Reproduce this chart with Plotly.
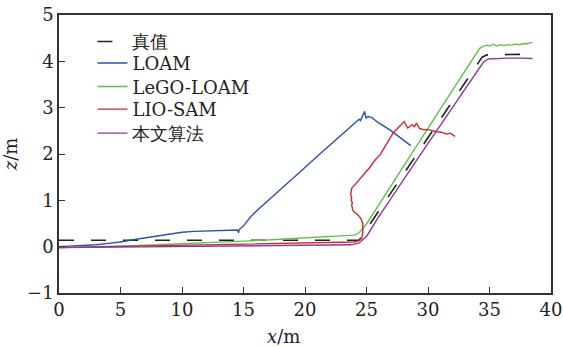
import plotly.graph_objects as go

# Ground truth trajectory (x, z)
truth_x = [0, 24.4, 34.4, 34.8, 37.6]
truth_z = [0.14, 0.14, 4.09, 4.14, 4.15]

# LOAM
loam_x = [0, 1, 2, 3, 4, 5, 6, 7, 8, 9, 10, 11, 12, 13, 14, 14.5, 14.6, 14.65,
          15.0, 15.6, 16.3, 17.0, 18.0, 19.0, 20.0, 21.0, 22.0, 23.0, 23.8, 24.4,
          24.5, 24.7, 24.85, 24.95, 25.1, 25.4, 26.0, 26.9, 27.7, 28.6]
loam_z = [0.0, 0.01, 0.02, 0.04, 0.07, 0.10, 0.15, 0.19, 0.23, 0.27, 0.31, 0.33,
          0.34, 0.35, 0.35, 0.36, 0.30, 0.37, 0.45, 0.65, 0.83, 1.00, 1.24, 1.48,
          1.71, 1.95, 2.18, 2.42, 2.61, 2.75, 2.72, 2.86, 2.92, 2.77, 2.81, 2.79,
          2.67, 2.52, 2.36, 2.18]

# LeGO-LOAM
lego_x = [0, 2, 4, 6, 8, 10, 12, 14, 16, 18, 20, 22, 23.5, 24.0, 24.4, 24.8,
          25.0, 26, 27, 28, 29, 30, 31, 32, 33, 34.0, 34.2, 34.5, 34.8, 35.0,
          35.3, 35.6, 35.9, 36.2, 36.5, 36.8, 37.1, 37.4, 37.7, 38.0, 38.5]
lego_z = [-0.02, -0.01, 0.0, 0.02, 0.04, 0.06, 0.08, 0.10, 0.13, 0.16, 0.19,
          0.21, 0.23, 0.25, 0.30, 0.42, 0.49, 0.90, 1.32, 1.73, 2.14, 2.56, 2.97,
          3.38, 3.79, 4.20, 4.28, 4.33, 4.35, 4.33, 4.37, 4.33, 4.36, 4.34, 4.36,
          4.35, 4.37, 4.36, 4.38, 4.38, 4.41]

# LIO-SAM
lio_x = [0, 4, 8, 12, 16, 20, 23, 24.0, 24.4, 24.6, 24.7, 24.7, 24.6, 24.4,
         24.2, 23.95, 23.85, 23.8, 23.85, 23.75, 23.8, 23.72, 23.75, 23.8, 24.1,
         24.4, 24.8, 25.3, 25.7, 26.1, 26.6, 27.15, 27.6, 28.07, 28.35, 28.7,
         28.9, 29.06, 29.3, 29.6, 30.1, 30.7, 31.1, 31.5, 31.8, 32.2]
lio_z = [-0.02, 0.0, 0.02, 0.04, 0.06, 0.08, 0.09, 0.10, 0.13, 0.18, 0.30, 0.50,
         0.58, 0.66, 0.71, 0.76, 0.82, 0.90, 0.95, 1.0, 1.05, 1.12, 1.18, 1.26,
         1.35, 1.44, 1.57, 1.72, 1.87, 1.98, 2.20, 2.45, 2.57, 2.70, 2.56, 2.63,
         2.59, 2.67, 2.55, 2.53, 2.52, 2.48, 2.47, 2.43, 2.45, 2.38]

# Proposed method
ours_x = [0, 4, 8, 12, 16, 20, 23.8, 24.4, 25.0, 26, 27, 28, 29, 30, 31, 32,
          33, 34, 34.5, 34.9, 35.5, 36.5, 37.5, 38.0, 38.5]
ours_z = [-0.02, -0.01, 0.0, 0.01, 0.02, 0.03, 0.04, 0.08, 0.22, 0.65, 1.05,
          1.44, 1.83, 2.23, 2.62, 3.01, 3.41, 3.80, 3.98, 4.05, 4.06, 4.07,
          4.07, 4.06, 4.06]

SERIF = "DejaVu Serif"
TEXT = "#222222"

series = [
    ("真值", truth_x, truth_z, dict(color="#222222", width=1.6, dash="15px,17px")),
    ("LOAM", loam_x, loam_z, dict(color="#2a52b0", width=1.4)),
    ("LeGO-LOAM", lego_x, lego_z, dict(color="#5cc24a", width=1.4)),
    ("LIO-SAM", lio_x, lio_z, dict(color="#d0262e", width=1.4)),
    ("本文算法", ours_x, ours_z, dict(color="#8b3a98", width=1.4)),
]

# plot-area geometry (px) used to place the per-series legend rows
PLOT_TOP, PLOT_BOTTOM = 15, 292.7
legend_rows_px = [41.7, 63.3, 86.7, 109.3, 133.3]

fig = go.Figure()
legend_layout = {}
for i, (name, xs, zs, line) in enumerate(series):
    key = "legend" if i == 0 else f"legend{i + 1}"
    fig.add_trace(go.Scatter(x=xs, y=zs, mode="lines", name=name, line=line,
                             legend=key))
    legend_layout[key] = dict(
        x=0.068, y=(PLOT_BOTTOM - legend_rows_px[i]) / (PLOT_BOTTOM - PLOT_TOP),
        xanchor="left", yanchor="middle", bgcolor="rgba(0,0,0,0)",
        borderwidth=0, font=dict(family=SERIF, size=18, color=TEXT))

axis_common = dict(
    showgrid=False, zeroline=False, showline=True, linecolor="#333333",
    linewidth=1.5, mirror=True, ticks="inside", ticklen=6, tickwidth=1.2,
    tickcolor="#333333", tickfont=dict(family=SERIF, size=18, color=TEXT),
    automargin=False,
)

fig.update_layout(
    width=563, height=347,
    margin=dict(l=59, r=12, t=15, b=54),
    paper_bgcolor="white", plot_bgcolor="white",
    font=dict(family=SERIF, size=18, color=TEXT),
    showlegend=True,
    xaxis=dict(range=[0, 40], tickvals=[0, 5, 10, 15, 20, 25, 30, 35, 40],
               **axis_common),
    yaxis=dict(range=[-1, 5], tickvals=[-1, 0, 1, 2, 3, 4, 5],
               title=dict(text="<i>z</i>/m", font=dict(family=SERIF, size=18),
                          standoff=10),
               **axis_common),
    annotations=[dict(text="<i>x</i>/m", xref="paper", yref="paper",
                      x=(283 - 59) / (551 - 59), y=0, yshift=-43,
                      xanchor="center", yanchor="middle", showarrow=False,
                      font=dict(family=SERIF, size=18, color=TEXT))],
    **legend_layout,
)

fig.write_html("out.html")
